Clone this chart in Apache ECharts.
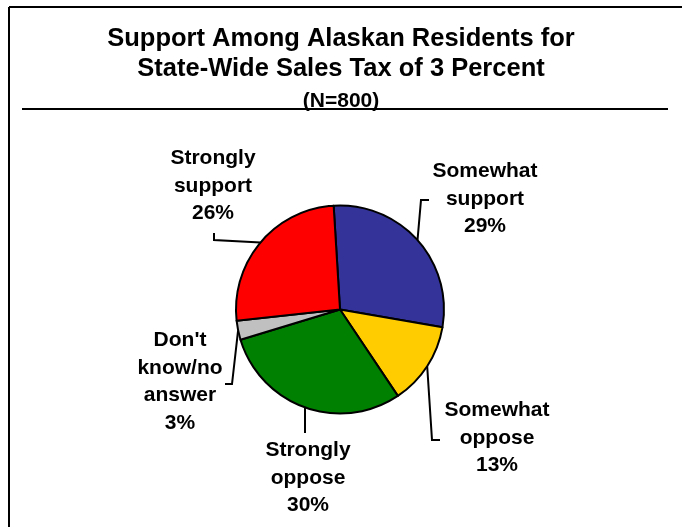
<!DOCTYPE html>
<html>
<head>
<meta charset="utf-8">
<script src="https://cdn.jsdelivr.net/npm/echarts@6/dist/echarts.min.js"></script>
<style>
  html, body { margin: 0; padding: 0; background: #ffffff; }
  #chart { width: 682px; height: 527px; }
</style>
</head>
<body>
<div id="chart"></div>
<script>
// Survey answers, clockwise from 12 o'clock
const categories = ['Somewhat support', 'Somewhat oppose', 'Strongly oppose', "Don't know/no answer", 'Strongly support'];
const labelWords = [['Somewhat', 'support'], ['Somewhat', 'oppose'], ['Strongly', 'oppose'], ["Don't", 'know/no', 'answer'], ['Strongly', 'support']];
const values = [29, 13, 30, 3, 26];

const sliceColors = ['#333399', '#FFCC00', '#008000', '#C0C0C0', '#FF0000'];

// Where each label block sits (centre of text block), and the leader route
// as offsets from that centre; a null x keeps the x of the previous point.
const labelSpots = [
  { x: 485, y: 199, route: [[-64, 1], [-56, 1]] },
  { x: 497, y: 438, route: [[-65, 2], [-57, 2]] },
  { x: 308, y: 478, route: [[null, -45]] },
  { x: 180, y: 381.5, route: [[52, 2.5], [45, 2.5]] },
  { x: 213, y: 186, route: [[1, 54], [1, 47]] }
];

const FONT = "'Liberation Sans', Arial, Helvetica, sans-serif";
const chart = echarts.init(document.getElementById('chart'), null, { renderer: 'canvas' });

const frame = [
  { type: 'line', id: 'frameTop', shape: { x1: 9, y1: 7, x2: 682, y2: 7 }, style: { stroke: '#000', lineWidth: 2 }, silent: true },
  { type: 'line', id: 'frameLeft', shape: { x1: 9, y1: 7, x2: 9, y2: 527 }, style: { stroke: '#000', lineWidth: 2 }, silent: true },
  { type: 'line', id: 'titleRule', shape: { x1: 22, y1: 109, x2: 668, y2: 109 }, style: { stroke: '#000', lineWidth: 2 }, silent: true }
];

chart.setOption({
  animation: false,
  backgroundColor: '#ffffff',
  title: {
    text: 'Support Among Alaskan Residents for\nState-Wide Sales Tax of 3 Percent',
    subtext: '(N=800)',
    left: 'center',
    top: 19,
    itemGap: 5,
    textStyle: { fontFamily: FONT, fontSize: 25.5, fontWeight: 'bold', color: '#000', lineHeight: 30, align: 'center' },
    subtextStyle: { fontFamily: FONT, fontSize: 21, fontWeight: 'bold', color: '#000', lineHeight: 24, align: 'center' }
  },
  graphic: frame,
  series: [{
    type: 'pie',
    center: [340, 309.5],
    radius: 104,
    startAngle: 93.5,
    clockwise: true,
    avoidLabelOverlap: false,
    emphasis: { disabled: true },
    itemStyle: { borderColor: '#000', borderWidth: 2 },
    label: {
      show: true,
      position: 'outside',
      alignTo: 'none',
      fontFamily: FONT,
      fontSize: 21,
      fontWeight: 'bold',
      color: '#000',
      lineHeight: 27.5,
      align: 'center',
      formatter: p => labelWords[p.dataIndex].join('\n') + '\n' + p.value + '%'
    },
    labelLine: { show: false },
    labelLayout: p => ({
      x: labelSpots[p.dataIndex].x,
      y: labelSpots[p.dataIndex].y,
      align: 'center',
      verticalAlign: 'middle'
    }),
    data: categories.map((name, i) => ({
      name: name,
      value: values[i],
      itemStyle: { color: sliceColors[i] }
    }))
  }]
});

// Leader lines: start on the rim at each slice's middle angle (taken from the
// pie layout), then follow the route to the label block.
const pieData = chart.getModel().getSeriesByIndex(0).getData();
const leaders = labelSpots.map((spot, i) => {
  const lay = pieData.getItemLayout(i);
  const mid = (lay.startAngle + lay.endAngle) / 2;
  const pts = [[lay.cx + lay.r * Math.cos(mid), lay.cy + lay.r * Math.sin(mid)]];
  spot.route.forEach(([dx, dy]) => {
    const px = dx === null ? pts[pts.length - 1][0] : spot.x + dx;
    pts.push([px, spot.y + dy]);
  });
  return {
    type: 'polyline',
    id: 'leader' + i,
    shape: { points: pts },
    style: { stroke: '#000', lineWidth: 2, fill: null },
    silent: true,
    z: 10
  };
});

chart.setOption({ graphic: frame.concat(leaders) });
</script>
</body>
</html>
